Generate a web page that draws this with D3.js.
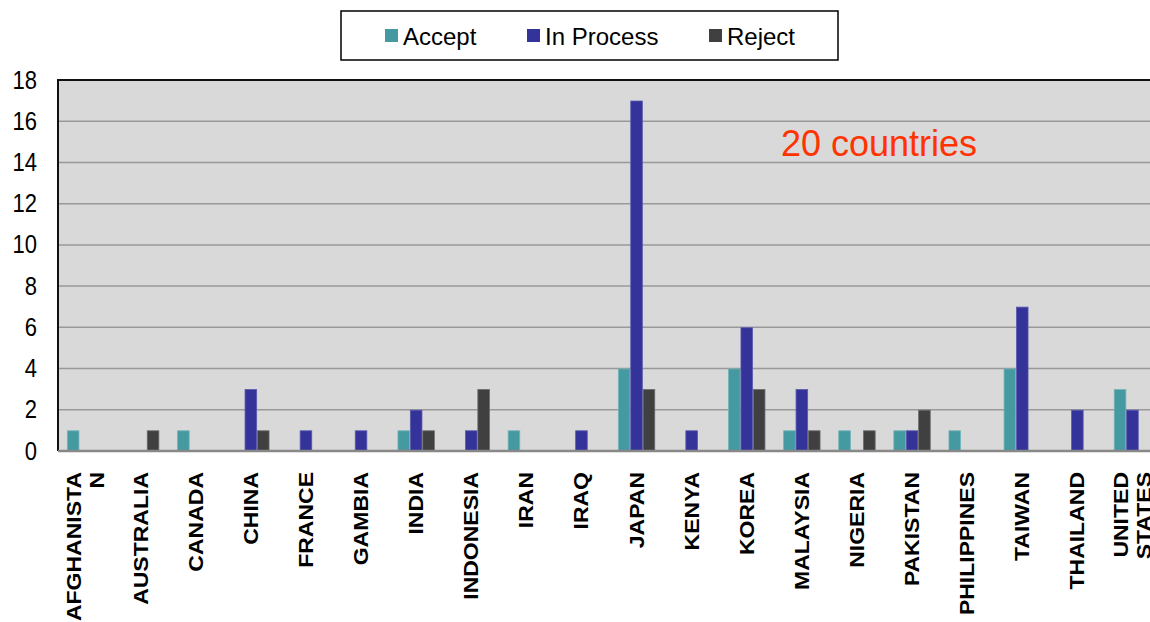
<!DOCTYPE html>
<html>
<head>
<meta charset="utf-8">
<script src="https://cdn.jsdelivr.net/npm/d3@7"></script>
<style>
  body { margin: 0; background: #fff; }
  svg { display: block; }
  text { font-family: "Liberation Sans", Arial, sans-serif; }
</style>
</head>
<body>
<svg id="chart" width="1150" height="622"></svg>
<script>
const categories = ["AFGHANISTAN","AUSTRALIA","CANADA","CHINA","FRANCE","GAMBIA","INDIA","INDONESIA","IRAN","IRAQ","JAPAN","KENYA","KOREA","MALAYSIA","NIGERIA","PAKISTAN","PHILIPPINES","TAIWAN","THAILAND","UNITED STATES"];
const categoryLines = [["AFGHANISTA","N"],["AUSTRALIA"],["CANADA"],["CHINA"],["FRANCE"],["GAMBIA"],["INDIA"],["INDONESIA"],["IRAN"],["IRAQ"],["JAPAN"],["KENYA"],["KOREA"],["MALAYSIA"],["NIGERIA"],["PAKISTAN"],["PHILIPPINES"],["TAIWAN"],["THAILAND"],["UNITED","STATES"]];
const seriesNames = ["Accept","In Process","Reject"];
const accept    = [1,0,1,0,0,0,1,0,1,0,4,0,4,1,1,1,1,4,0,3];
const inProcess = [0,0,0,3,1,1,2,1,0,1,17,1,6,3,0,1,0,7,2,2];
const reject    = [0,1,0,1,0,0,1,3,0,0,3,0,3,1,1,2,0,0,0,0];
const yTicks = [0,2,4,6,8,10,12,14,16,18];
const colors = ["#4599A0","#333399","#404040"];
const strokes = ["#72b3b8","#5a5ab0","#6a6a6a"];
const annotation = "20 countries";

const seriesValues = [accept, inProcess, reject];
const svg = d3.select("#chart");

const pLeft = 58, pTop = 80, pRight = 1160, pBottom = 451;

const x0 = d3.scaleBand().domain(categories).range([pLeft, pRight]).paddingInner(0).paddingOuter(0);
const bw = x0.bandwidth();
const x1 = d3.scaleBand().domain(seriesNames).range([bw*0.1625, bw*0.8375]).padding(0);
const y = d3.scaleLinear().domain([0,18]).range([pBottom, pTop]);

// plot background
svg.append("rect").attr("x", pLeft).attr("y", pTop).attr("width", pRight-pLeft).attr("height", pBottom-pTop).attr("fill", "#D9D9D9");

// gridlines
svg.append("g").selectAll("line").data(yTicks.filter(t => t>0 && t<18)).join("line")
  .attr("x1", pLeft).attr("x2", pRight)
  .attr("y1", d => y(d)).attr("y2", d => y(d))
  .attr("stroke", "#999").attr("stroke-width", 1.5);

// bars
const groups = svg.append("g").selectAll("g").data(categories).join("g")
  .attr("transform", d => `translate(${x0(d)},0)`);
groups.selectAll("rect").data((d,i) => seriesNames.map((s,j) => ({s, j, v: seriesValues[j][i]})).filter(e => e.v > 0))
  .join("rect")
  .attr("x", e => x1(e.s) + 0.4)
  .attr("width", x1.bandwidth() - 0.8)
  .attr("y", e => y(e.v) + 0.4)
  .attr("height", e => y(0) - y(e.v) - 0.4)
  .attr("fill", e => colors[e.j])
  .attr("stroke", e => strokes[e.j])
  .attr("stroke-width", 0.8);

// top border and left axis
svg.append("line").attr("x1", pLeft).attr("x2", pRight).attr("y1", pTop).attr("y2", pTop).attr("stroke", "#111").attr("stroke-width", 2);
svg.append("line").attr("x1", pLeft).attr("x2", pLeft).attr("y1", pTop-1).attr("y2", pBottom).attr("stroke", "#111").attr("stroke-width", 2);
// bottom axis line
svg.append("line").attr("x1", pLeft).attr("x2", pRight).attr("y1", pBottom).attr("y2", pBottom).attr("stroke", "#888").attr("stroke-width", 2.5);

// y tick labels
svg.append("g").selectAll("text").data(yTicks).join("text")
  .attr("transform", d => `translate(37,${y(d)+8.5}) scale(1,1.13)`)
  .attr("text-anchor", "end")
  .attr("font-size", 22)
  .attr("fill", "#000")
  .text(d => d);

// x labels
const xl = svg.append("g").selectAll("text").data(categories).join("text")
  .attr("transform", d => `translate(${x0(d) + bw/2},472) rotate(-90) scale(1.15,1)`)
  .attr("text-anchor", "end")
  .attr("font-size", 20)
  .attr("font-weight", "bold")
  .attr("fill", "#000");
xl.each(function(d,i){
  const lines = categoryLines[i];
  const n = lines.length;
  const t = d3.select(this);
  lines.forEach((ln, k) => {
    t.append("tspan").attr("x", 0)
      .attr("y", (k - (n-1)/2) * 23 + 7)
      .text(ln);
  });
});

// legend
const lg = svg.append("g");
lg.append("rect").attr("x", 341).attr("y", 11).attr("width", 497).attr("height", 49)
  .attr("fill", "#fff").attr("stroke", "#000").attr("stroke-width", 1.5);
const legendX = [385, 527, 709];
seriesNames.forEach((s, j) => {
  lg.append("rect").attr("x", legendX[j]).attr("y", 29).attr("width", 13).attr("height", 13).attr("fill", colors[j]);
  lg.append("text").attr("x", legendX[j] + 18).attr("y", 45).attr("font-size", 24).attr("fill", "#000").text(s);
});

// annotation
svg.append("text").attr("x", 781).attr("y", 156).attr("font-size", 36).attr("fill", "#FF3300").text(annotation);
</script>
</body>
</html>
